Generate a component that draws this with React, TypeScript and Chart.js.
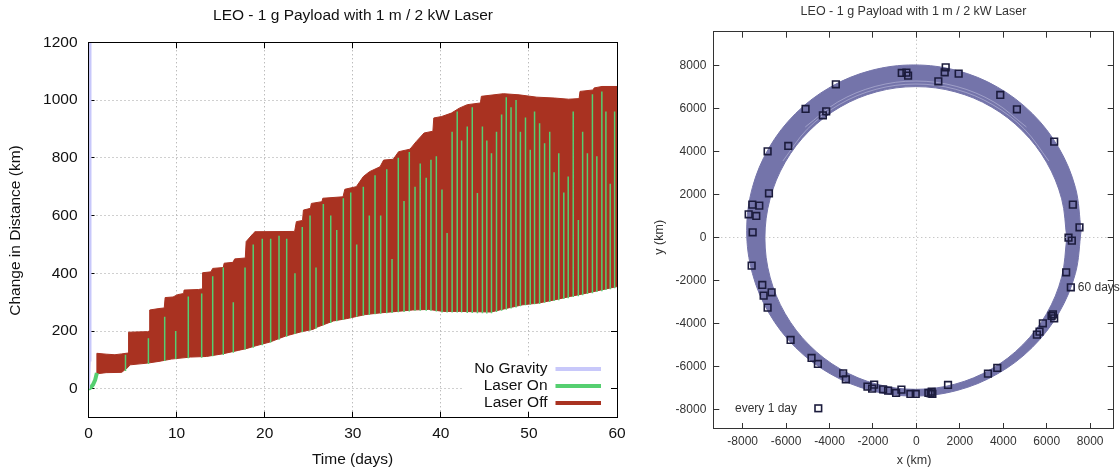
import React, { useEffect, useRef } from 'react';
import { Chart, registerables } from 'chart.js';

Chart.register(...registerables);

const FONT = '"Liberation Sans", Arial, Helvetica, sans-serif';
const RED = '#a93221';
const GREEN = '#55cf70';
const LAVENDER = '#c8c8fa';
const RING = '#7474aa';
const RING_LIGHT = 'rgba(215,215,240,0.55)';
const NAVY = '#1b1b3c';
const TITLE = 'LEO - 1 g Payload with 1 m / 2 kW Laser';

// ---------------- Left chart data ----------------
const timeTicks = [0, 10, 20, 30, 40, 50, 60];
const distanceTicks = [0, 200, 400, 600, 800, 1000, 1200];

const noGravityDays = [0, 0.1, 0.17];
const noGravityKm = [0, 100, 1300];

const rampDays = [0, 0.25, 0.5, 0.75, 0.95];
const rampKm = [0, 5, 14, 30, 55];

const upperDays = [0.93, 0.95, 2, 3, 3.77, 4.5, 4.55, 5.5, 6.7, 6.9, 6.95, 8, 8.6, 8.7, 9.6, 10.1, 10.8, 10.85, 12.5, 12.9, 12.95, 13.9, 14.1, 15.3, 15.4, 16.4, 16.6, 17.8, 17.9, 18.7, 18.9, 23.4, 23.6, 24.3, 24.4, 25.2, 25.3, 26.5, 26.6, 28.9, 29.1, 30.4, 31.2, 31.9, 33.1, 33.5, 34.6, 35.2, 36.5, 37.2, 38.1, 39.1, 39.2, 40.1, 41.2, 42.1, 43, 44.5, 44.6, 47.1, 48.9, 50.9, 52.9, 54.5, 55.7, 55.8, 57.3, 57.4, 58.3, 60];
const upperKm = [52, 123, 120, 118, 121, 124, 196, 197, 198, 200, 273, 278, 280, 316, 318, 326, 330, 342, 344, 346, 402, 405, 417, 420, 435, 438, 450, 453, 510, 538, 544, 545, 579, 583, 619, 625, 642, 648, 660, 665, 691, 700, 735, 752, 769, 792, 795, 821, 830, 856, 886, 892, 938, 943, 955, 972, 984, 990, 1013, 1022, 1018, 1010, 1007, 1003, 1005, 1030, 1035, 1042, 1047, 1047];

const lowerDays = [0.93, 2, 3.77, 4.5, 4.7, 6.7, 8, 9.4, 11.6, 13.4, 15.2, 17, 18, 19, 20.6, 21.7, 22.4, 24.2, 25.5, 26, 27.8, 29.3, 31.4, 33.1, 35, 36.8, 38.6, 40.3, 42.1, 43.9, 45.7, 47.5, 49.3, 51.1, 52.9, 54.7, 56.5, 58.3, 60];
const lowerKm = [52, 56, 57, 75, 83, 89, 95, 103, 110, 112, 121, 133, 140, 149, 162, 175, 183, 198, 206, 214, 235, 243, 257, 263, 268, 273, 275, 268, 268, 267, 266, 279, 291, 297, 308, 320, 331, 343, 354];

const spikeDays = [4.2, 6.8, 8.65, 9.9, 11.33, 12.85, 14.1, 15.3, 16.44, 17.77, 18.7, 19.73, 20.68, 21.63, 22.5, 23.44, 24.27, 25.15, 25.83, 26.66, 27.5, 28.18, 28.93, 29.77, 30.45, 31.2, 31.88, 32.53, 33.17, 33.86, 34.46, 35.17, 35.82, 36.42, 37.07, 37.66, 38.34, 38.88, 39.49, 40.13, 40.71, 41.28, 41.86, 42.36, 43.0, 43.57, 44.15, 44.72, 45.22, 45.75, 46.32, 46.9, 47.43, 47.97, 48.54, 49.03, 49.61, 50.15, 50.64, 51.21, 51.78, 52.36, 52.86, 53.39, 53.96, 54.46, 55.03, 55.61, 56.1, 56.64, 57.21, 57.71, 58.28, 58.74, 59.23, 59.73];
const spikeLo = [62, 86, 96, 103, 106, 108, 113, 117, 125, 135, 142, 151, 160, 170, 180, 190, 196, 202, 208, 220, 228, 234, 238, 245, 250, 254, 256, 258, 260, 262, 263, 265, 266, 268, 270, 270, 270, 270, 268, 264, 264, 264, 264, 264, 263, 263, 262, 262, 261, 262, 266, 270, 274, 278, 282, 286, 289, 291, 293, 294, 298, 301, 304, 307, 311, 314, 318, 321, 324, 328, 331, 335, 338, 342, 345, 348];
const spikeHi = [118, 175, 250, 200, 320, 330, 390, 420, 300, 420, 500, 520, 520, 530, 520, 400, 560, 600, 420, 640, 600, 550, 660, 680, 500, 700, 600, 740, 600, 760, 450, 800, 650, 820, 700, 780, 731, 793, 805, 690, 540, 890, 960, 860, 908, 975, 678, 908, 860, 816, 890, 950, 1010, 975, 1000, 890, 940, 828, 960, 920, 850, 890, 750, 816, 680, 735, 960, 585, 890, 816, 1020, 805, 1030, 960, 710, 960];

const leftLegend = ['No Gravity', 'Laser On', 'Laser Off'];
const leftLegendColors = [LAVENDER, GREEN, RED];

// ---------------- Right chart data ----------------
const orbitTicks = [-8000, -6000, -4000, -2000, 0, 2000, 4000, 6000, 8000];

const outerX = [7585, 7323, 6553, 5330, 3735, 1878, -115, -2108, -3965, -5560, -6783, -7553, -7815, -7553, -6783, -5560, -3965, -2108, -115, 1878, 3735, 5330, 6553, 7323, 7585];
const outerY = [317, 2310, 4167, 5762, 6985, 7755, 8017, 7755, 6985, 5762, 4167, 2310, 317, -1676, -3533, -5128, -6351, -7121, -7383, -7121, -6351, -5128, -3533, -1676, 317];

const innerX = [6925, 6688, 5994, 4889, 3450, 1774, -25, -1824, -3500, -4939, -6044, -6738, -6975, -6738, -6044, -4939, -3500, -1824, -25, 1774, 3450, 4889, 5994, 6688, 6925];
const innerY = [-31, 1791, 3489, 4947, 6066, 6769, 7009, 6769, 6066, 4947, 3489, 1791, -31, -1853, -3551, -5009, -6128, -6831, -7071, -6831, -6128, -5009, -3551, -1853, -31];

// faint gaps between successive orbits near the inner top of the band
const traceAX = [6098, 4974, 3510, 1805, -25, -1855, -3560, -5024, -6148];
const traceAY = [3549, 5032, 6170, 6885, 7129, 6885, 6170, 5032, 3549];
const traceBX = [5066, 3575, 1838, -25, -1888, -3625, -5116];
const traceBY = [5131, 6291, 7020, 7269, 7020, 6291, 5131];

const dayX = [1349, 1303, 1946, -674, -460, -383, 1011, -3709, 3862, 4628, -5103, -4153, -4307, 6345, -5900, -6851, -6789, -7556, -7234, 7203, -7724, -7372, 7510, -7540, 7004, 7157, -7586, 6897, -7096, -6667, -7034, -6851, 6284, 6222, 6345, 5824, 5670, 5548, -5793, -4828, -4536, 3724, 3295, -3372, -3249, 1456, -1946, -2253, -2038, -1533, -1303, -690, -935, -276, -31, 552, 705, 736, 659, 7111];
const dayY = [7907, 7674, 7612, 7643, 7659, 7519, 7256, 7116, 6620, 5953, 5969, 5860, 5674, 4450, 4248, 4000, 2047, 1519, 1473, 1519, 1070, 992, 465, 233, -16, -155, -1318, -1628, -2217, -2558, -2713, -3271, -3581, -3659, -3767, -4000, -4388, -4527, -4775, -5612, -5891, -6078, -6341, -6326, -6605, -6868, -6853, -6946, -7039, -7070, -7132, -7085, -7240, -7287, -7287, -7240, -7178, -7287, -7256, -2326];

const pts = (xs: number[], ys: (number | null)[]) => xs.map((x, i) => ({ x, y: ys[i] }));

function spikeData() {
  const out: { x: number; y: number | null }[] = [];
  spikeDays.forEach((d, i) => {
    out.push({ x: d, y: spikeLo[i] });
    out.push({ x: d, y: spikeHi[i] });
    out.push({ x: d, y: null });
  });
  return out;
}

const crisp = (v: number) => Math.round(v - 0.5) + 0.5;

function line(ctx: CanvasRenderingContext2D, x1: number, y1: number, x2: number, y2: number) {
  ctx.beginPath();
  ctx.moveTo(x1, y1);
  ctx.lineTo(x2, y2);
  ctx.stroke();
}

function inwardTicks(chart: any, xt: number[], yt: number[], len: number, color: string) {
  const { ctx, chartArea: a, scales } = chart;
  ctx.save();
  ctx.strokeStyle = color;
  ctx.lineWidth = 1;
  xt.forEach((v) => {
    const px = crisp(scales.x.getPixelForValue(v));
    line(ctx, px, a.bottom, px, a.bottom - len);
    line(ctx, px, a.top, px, a.top + len);
  });
  yt.forEach((v) => {
    const py = crisp(scales.y.getPixelForValue(v));
    line(ctx, a.left, py, a.left + len, py);
    line(ctx, a.right, py, a.right - len, py);
  });
  ctx.restore();
}

function frame(chart: any, color: string) {
  const { ctx, chartArea: a } = chart;
  ctx.save();
  ctx.strokeStyle = color;
  ctx.lineWidth = 1;
  ctx.strokeRect(crisp(a.left), crisp(a.top), Math.round(a.right - a.left), Math.round(a.bottom - a.top));
  ctx.restore();
}

function text(ctx: CanvasRenderingContext2D, s: string, x: number, y: number, size: number, color: string, align: CanvasTextAlign, rot = 0) {
  ctx.save();
  ctx.font = `${size}px ${FONT}`;
  ctx.fillStyle = color;
  ctx.textAlign = align;
  ctx.textBaseline = 'middle';
  ctx.translate(x, y);
  if (rot) ctx.rotate(rot);
  ctx.fillText(s, 0, 0);
  ctx.restore();
}

const KEY_LEFT = 462;
const KEY_TOP = 357;

const leftDecor = {
  id: 'leftDecor',
  beforeDatasetsDraw(chart: any) {
    const { ctx, chartArea: a, scales } = chart;
    ctx.save();
    ctx.beginPath();
    ctx.rect(a.left, a.top, a.right - a.left, a.bottom - a.top);
    ctx.rect(KEY_LEFT, KEY_TOP, a.right - KEY_LEFT, a.bottom - KEY_TOP);
    ctx.clip('evenodd');
    ctx.strokeStyle = '#a0a0a0';
    ctx.lineWidth = 1;
    ctx.setLineDash([1, 3]);
    timeTicks.filter((v) => v > 0 && v < 60).forEach((v) => {
      const px = crisp(scales.x.getPixelForValue(v));
      line(ctx, px, a.top, px, a.bottom);
    });
    distanceTicks.filter((v) => v < 1200).forEach((v) => {
      const py = crisp(scales.y.getPixelForValue(v));
      line(ctx, a.left, py, a.right, py);
    });
    ctx.restore();
    inwardTicks(chart, timeTicks, distanceTicks, 6, '#000');
  },
  afterDatasetsDraw(chart: any) {
    const { ctx } = chart;
    frame(chart, '#000');
    const ys = [369, 386, 403];
    leftLegend.forEach((s, i) => {
      text(ctx, s, 547.5, ys[i], 15.5, '#111', 'right');
      ctx.save();
      ctx.strokeStyle = leftLegendColors[i];
      ctx.lineWidth = 4;
      line(ctx, 555.5, ys[i], 601, ys[i]);
      ctx.restore();
    });
  },
  afterDraw(chart: any) {
    const { ctx } = chart;
    text(ctx, TITLE, 353, 15.5, 15.5, '#111', 'center');
    text(ctx, 'Time (days)', 352.5, 460, 15.5, '#111', 'center');
    text(ctx, 'Change in Distance (km)', 16, 230.5, 15.5, '#111', 'center', -Math.PI / 2);
  },
};

const rightDecor = {
  id: 'rightDecor',
  beforeDatasetsDraw(chart: any) {
    const { ctx, chartArea: a, scales } = chart;
    ctx.save();
    ctx.strokeStyle = '#b0b0b0';
    ctx.lineWidth = 1;
    ctx.setLineDash([1, 3]);
    const px = crisp(scales.x.getPixelForValue(0));
    const py = crisp(scales.y.getPixelForValue(0));
    line(ctx, px, a.top, px, a.bottom);
    line(ctx, a.left, py, a.right, py);
    ctx.restore();
    inwardTicks(chart, orbitTicks, orbitTicks, 6, '#333');
  },
  afterDatasetsDraw(chart: any) {
    const { ctx, chartArea: a, scales } = chart;
    // zero axes visible through the interior of the orbit band
    const inner = chart.getDatasetMeta(3).data;
    ctx.save();
    ctx.beginPath();
    inner.forEach((p: any, i: number) => (i ? ctx.lineTo(p.x, p.y) : ctx.moveTo(p.x, p.y)));
    ctx.closePath();
    ctx.clip();
    ctx.strokeStyle = '#b0b0b0';
    ctx.lineWidth = 1;
    ctx.setLineDash([1, 3]);
    const px = crisp(scales.x.getPixelForValue(0));
    const py = crisp(scales.y.getPixelForValue(0));
    line(ctx, px, a.top, px, a.bottom);
    line(ctx, a.left, py, a.right, py);
    ctx.restore();

    frame(chart, '#333');

    // key: every 1 day
    text(ctx, 'every 1 day', 157, 408.3, 12, '#333', 'right');
    ctx.save();
    ctx.strokeStyle = NAVY;
    ctx.lineWidth = 1.6;
    ctx.strokeRect(178.3 - 3.3, 408.3 - 3.3, 6.6, 6.6);
    ctx.restore();

    // label at the last day
    const n = dayX.length - 1;
    const lx = scales.x.getPixelForValue(dayX[n]);
    const ly = scales.y.getPixelForValue(dayY[n]);
    text(ctx, '60 days', lx + 7, ly, 12, '#333', 'left');
  },
  afterDraw(chart: any) {
    const { ctx } = chart;
    text(ctx, TITLE, 273.5, 11.5, 12.5, '#333', 'center');
    text(ctx, 'x (km)', 274, 461, 12.5, '#333', 'center');
    text(ctx, 'y (km)', 20, 237.3, 12.5, '#333', 'center', -Math.PI / 2);
  },
};

function leftConfig(): any {
  return {
    type: 'line',
    data: {
      datasets: [
        { label: 'Laser On', data: spikeData(), borderColor: GREEN, borderWidth: 1.5, pointRadius: 0, spanGaps: false, fill: false, order: 1 },
        { label: 'Laser On start', data: pts(rampDays, rampKm), borderColor: GREEN, borderWidth: 4, pointRadius: 0, fill: false, order: 1 },
        { label: 'No Gravity', data: pts(noGravityDays, noGravityKm), borderColor: LAVENDER, borderWidth: 3, pointRadius: 0, fill: false, order: 0 },
        { label: 'Laser Off', data: pts(upperDays, upperKm), borderColor: RED, backgroundColor: RED, borderWidth: 1, pointRadius: 0, fill: '+1', order: 2 },
        { label: 'Laser Off low', data: pts(lowerDays, lowerKm), borderColor: RED, borderWidth: 1, pointRadius: 0, fill: false, order: 2 },
      ],
    },
    options: {
      responsive: false,
      animation: false,
      events: [],
      layout: { padding: { top: 42.3, right: 23, bottom: 0, left: 0 } },
      plugins: { legend: { display: false }, tooltip: { enabled: false }, title: { display: false } },
      scales: {
        x: {
          type: 'linear', min: 0, max: 60,
          afterBuildTicks: (s: any) => { s.ticks = timeTicks.map((v) => ({ value: v })); },
          afterFit: (s: any) => { s.height = 52.3; },
          grid: { display: false, drawTicks: false },
          border: { display: false },
          ticks: { callback: (v: any) => String(v), font: { family: FONT, size: 15.5 }, color: '#111', padding: 7, maxRotation: 0, autoSkip: false },
        },
        y: {
          type: 'linear', min: -100, max: 1200,
          afterBuildTicks: (s: any) => { s.ticks = distanceTicks.map((v) => ({ value: v })); },
          afterFit: (s: any) => { s.width = 88.5; },
          grid: { display: false, drawTicks: false },
          border: { display: false },
          ticks: { callback: (v: any) => String(v), font: { family: FONT, size: 15.5 }, color: '#111', padding: 11, autoSkip: false },
        },
      },
    },
    plugins: [leftDecor],
  };
}

function rightConfig(): any {
  return {
    type: 'line',
    data: {
      datasets: [
        { label: 'every 1 day', data: pts(dayX, dayY), showLine: false, pointStyle: 'rect', pointRadius: 4.7, borderColor: NAVY, backgroundColor: 'rgba(0,0,0,0)', pointBorderWidth: 1.6, order: 0 },
        { label: 'trace a', data: pts(traceAX, traceAY), borderColor: RING_LIGHT, borderWidth: 0.8, pointRadius: 0, tension: 0.35, fill: false, order: 1 },
        { label: 'trace b', data: pts(traceBX, traceBY), borderColor: RING_LIGHT, borderWidth: 0.8, pointRadius: 0, tension: 0.35, fill: false, order: 1 },
        { label: 'inner', data: pts(innerX, innerY), borderColor: RING, backgroundColor: '#ffffff', borderWidth: 1, pointRadius: 0, tension: 0.35, fill: 'shape', order: 2 },
        { label: 'orbit', data: pts(outerX, outerY), borderColor: RING, backgroundColor: RING, borderWidth: 1, pointRadius: 0, tension: 0.35, fill: 'shape', order: 3 },
      ],
    },
    options: {
      responsive: false,
      animation: false,
      events: [],
      layout: { padding: { top: 31.7, right: 5.7, bottom: 0, left: 0 } },
      plugins: { legend: { display: false }, tooltip: { enabled: false }, title: { display: false } },
      scales: {
        x: {
          type: 'linear', min: -9352, max: 9085,
          afterBuildTicks: (s: any) => { s.ticks = orbitTicks.map((v) => ({ value: v })); },
          afterFit: (s: any) => { s.height = 41; },
          grid: { display: false, drawTicks: false },
          border: { display: false },
          ticks: { callback: (v: any) => String(v), font: { family: FONT, size: 12 }, color: '#333', padding: 5.5, maxRotation: 0, autoSkip: false },
        },
        y: {
          type: 'linear', min: -8916, max: 9563,
          afterBuildTicks: (s: any) => { s.ticks = orbitTicks.map((v) => ({ value: v })); },
          afterFit: (s: any) => { s.width = 73.3; },
          grid: { display: false, drawTicks: false },
          border: { display: false },
          ticks: { callback: (v: any) => String(v), font: { family: FONT, size: 12 }, color: '#333', padding: 7, autoSkip: false },
        },
      },
    },
    plugins: [rightDecor],
  };
}

export default function App() {
  const leftRef = useRef<HTMLCanvasElement>(null);
  const rightRef = useRef<HTMLCanvasElement>(null);
  useEffect(() => {
    const l = new Chart(leftRef.current as HTMLCanvasElement, leftConfig());
    const r = new Chart(rightRef.current as HTMLCanvasElement, rightConfig());
    return () => {
      l.destroy();
      r.destroy();
    };
  }, []);
  return (
    <div style={{ position: 'absolute', left: 0, top: 0, width: 1120, height: 470, background: '#ffffff' }}>
      <canvas ref={leftRef} width={640} height={470} style={{ position: 'absolute', left: 0, top: 0, width: 640, height: 470 }} />
      <canvas ref={rightRef} width={480} height={470} style={{ position: 'absolute', left: 640, top: 0, width: 480, height: 470 }} />
    </div>
  );
}
